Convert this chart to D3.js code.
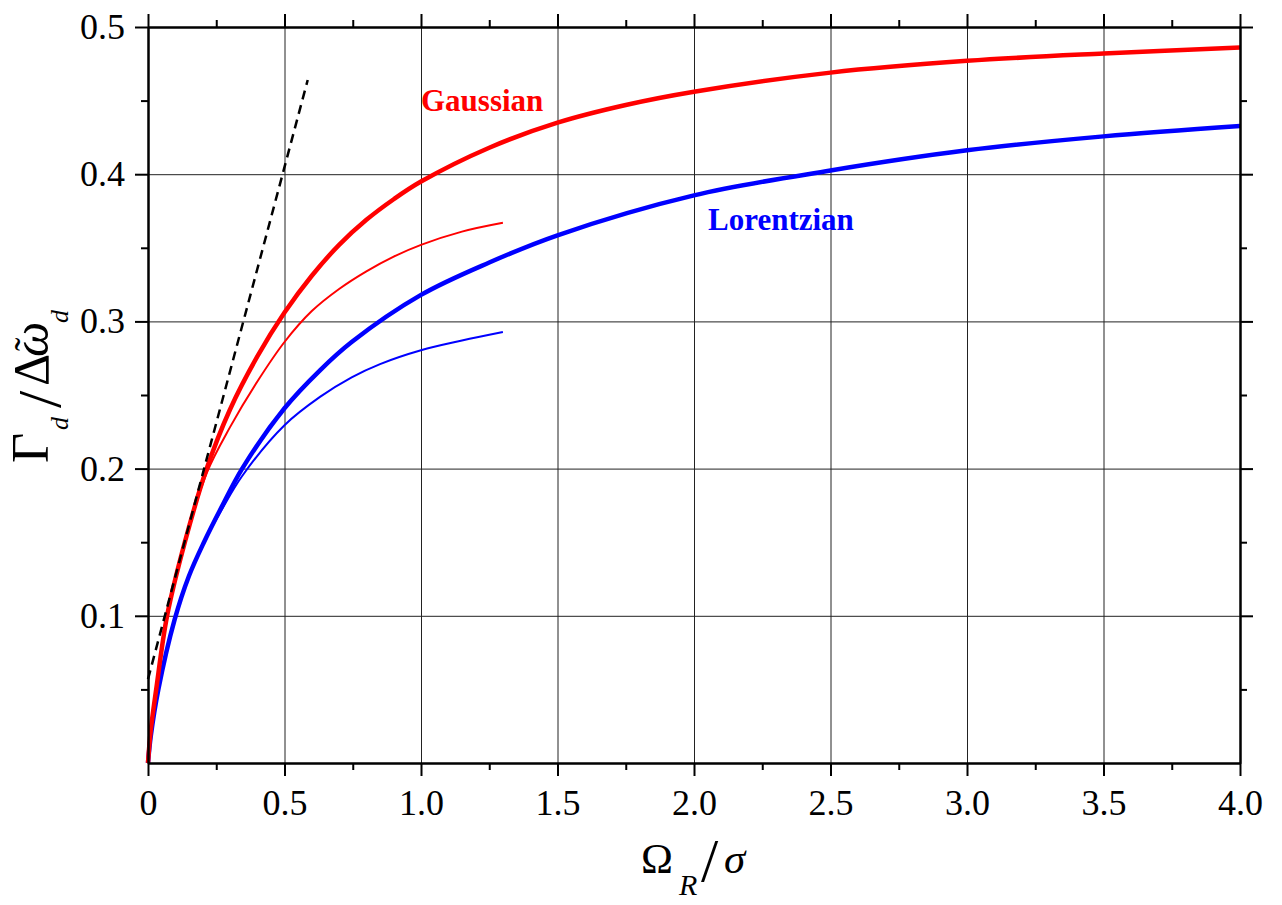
<!DOCTYPE html>
<html>
<head>
<meta charset="utf-8">
<script src="https://cdn.jsdelivr.net/npm/d3@7"></script>
<style>
  html, body { margin: 0; padding: 0; background: #fff; }
  svg { display: block; }
  text { font-family: "Liberation Serif", "Times New Roman", serif; }
</style>
</head>
<body>
<svg id="chart" width="1282" height="905"></svg>
<script>
// ---------------- DATA ----------------
const gaussThickX = [0, 0.01, 0.03, 0.07, 0.135, 0.215, 0.3, 0.4, 0.5, 0.6, 0.7, 0.8, 0.9, 1.0, 1.25, 1.5, 1.75, 2.0, 2.5, 3.0, 3.5, 4.0];
const gaussThickY = [0, 0.022, 0.05, 0.1, 0.15, 0.2, 0.24, 0.276, 0.306, 0.331, 0.352, 0.369, 0.383, 0.395, 0.418, 0.435, 0.447, 0.456, 0.469, 0.477, 0.482, 0.486];

const gaussThinX = [0, 0.01, 0.03, 0.07, 0.135, 0.215, 0.3, 0.4, 0.5, 0.6, 0.7, 0.8, 0.9, 1.0, 1.15, 1.3];
const gaussThinY = [0, 0.022, 0.05, 0.1, 0.15, 0.197, 0.228, 0.259, 0.286, 0.307, 0.322, 0.334, 0.344, 0.352, 0.361, 0.367];

const lorThickX = [0, 0.01, 0.038, 0.097, 0.15, 0.205, 0.27, 0.345, 0.5, 0.63, 0.746, 1.0, 1.25, 1.5, 2.0, 2.5, 3.0, 3.5, 4.0];
const lorThickY = [0, 0.018, 0.05, 0.097, 0.127, 0.15, 0.174, 0.2, 0.241, 0.2668, 0.286, 0.318, 0.34, 0.3585, 0.3856, 0.4025, 0.4162, 0.4257, 0.4327];

const lorThinX = [0, 0.01, 0.038, 0.097, 0.15, 0.205, 0.27, 0.345, 0.5, 0.63, 0.746, 0.85, 1.0, 1.15, 1.3];
const lorThinY = [0, 0.018, 0.05, 0.097, 0.127, 0.15, 0.172, 0.195, 0.2295, 0.2487, 0.262, 0.271, 0.2804, 0.287, 0.2928];

const dashX = [0, 0.585];
const dashY = [0.057, 0.464];

const xTicks = [0, 0.5, 1.0, 1.5, 2.0, 2.5, 3.0, 3.5, 4.0];
const xTickLabels = ["0", "0.5", "1.0", "1.5", "2.0", "2.5", "3.0", "3.5", "4.0"];
const xMinorTicks = [0.25, 0.75, 1.25, 1.75, 2.25, 2.75, 3.25, 3.75];
const yTicks = [0.1, 0.2, 0.3, 0.4, 0.5];
const yTickLabels = ["0.1", "0.2", "0.3", "0.4", "0.5"];
const yMinorTicks = [0.05, 0.15, 0.25, 0.35, 0.45];

// ---------------- LAYOUT ----------------
const L = 148, R = 1240, T = 27, B = 763;
const W = R - L, H = B - T;

const svg = d3.select("#chart");
const g = svg.append("g").attr("transform", `translate(${L},${T})`);

const x = d3.scaleLinear().domain([0, 4]).range([0, W]);
const y = d3.scaleLinear().domain([0, 0.5]).range([H, 0]);

// grid
g.append("g").attr("class", "grid")
  .attr("transform", `translate(0,${H})`)
  .call(d3.axisBottom(x).tickValues(xTicks).tickSize(-H).tickFormat(""))
  .call(s => s.select(".domain").remove())
  .call(s => s.selectAll("line").attr("stroke", "#222").attr("stroke-width", 1));
g.append("g").attr("class", "grid")
  .call(d3.axisLeft(y).tickValues(yTicks).tickSize(-W).tickFormat(""))
  .call(s => s.select(".domain").remove())
  .call(s => s.selectAll("line").attr("stroke", "#222").attr("stroke-width", 1));

// curves
const line = d3.line().x(d => x(d[0])).y(d => y(d[1])).curve(d3.curveCatmullRom.alpha(0.5));
function pts(xs, ys) { return xs.map((v, i) => [v, ys[i]]); }

g.append("path").datum(pts(lorThinX, lorThinY)).attr("d", line)
  .attr("fill", "none").attr("stroke", "#0000ff").attr("stroke-width", 2);
g.append("path").datum(pts(lorThickX, lorThickY)).attr("d", line)
  .attr("fill", "none").attr("stroke", "#0000ff").attr("stroke-width", 4.5);
g.append("path").datum(pts(gaussThinX, gaussThinY)).attr("d", line)
  .attr("fill", "none").attr("stroke", "#ff0000").attr("stroke-width", 2);
g.append("path").datum(pts(gaussThickX, gaussThickY)).attr("d", line)
  .attr("fill", "none").attr("stroke", "#ff0000").attr("stroke-width", 4.5);
g.append("path").datum(pts(dashX, dashY)).attr("d", d3.line().x(d => x(d[0])).y(d => y(d[1])))
  .attr("fill", "none").attr("stroke", "#000").attr("stroke-width", 2.5)
  .attr("stroke-dasharray", "9,6");

// axes
function styleAxis(s) {
  s.select(".domain").attr("stroke", "#000").attr("stroke-width", 2);
  s.selectAll(".tick line").attr("stroke", "#000").attr("stroke-width", 2);
  s.selectAll("text").attr("fill", "#000").style("font-size", "36px")
    .style("font-family", '"Liberation Serif", "Times New Roman", serif');
}
// bottom
g.append("g").attr("transform", `translate(0,${H})`)
  .call(d3.axisBottom(x).tickValues(xTicks).tickSize(13).tickPadding(13.4)
    .tickFormat((d, i) => xTickLabels[i]).tickSizeOuter(0))
  .call(styleAxis);
g.append("g").attr("transform", `translate(0,${H})`)
  .call(d3.axisBottom(x).tickValues(xMinorTicks).tickSize(7).tickFormat("").tickSizeOuter(0))
  .call(styleAxis);
// top
g.append("g")
  .call(d3.axisTop(x).tickValues(xTicks).tickSize(13).tickFormat("").tickSizeOuter(0))
  .call(styleAxis);
g.append("g")
  .call(d3.axisTop(x).tickValues(xMinorTicks).tickSize(7).tickFormat("").tickSizeOuter(0))
  .call(styleAxis);
// left
g.append("g")
  .call(d3.axisLeft(y).tickValues(yTicks).tickSize(13).tickPadding(10)
    .tickFormat((d, i) => yTickLabels[i]).tickSizeOuter(0))
  .call(styleAxis);
g.append("g")
  .call(d3.axisLeft(y).tickValues(yMinorTicks).tickSize(7).tickFormat("").tickSizeOuter(0))
  .call(styleAxis);
// right
g.append("g").attr("transform", `translate(${W},0)`)
  .call(d3.axisRight(y).tickValues(yTicks).tickSize(13).tickFormat("").tickSizeOuter(0))
  .call(styleAxis);
g.append("g").attr("transform", `translate(${W},0)`)
  .call(d3.axisRight(y).tickValues(yMinorTicks).tickSize(7).tickFormat("").tickSizeOuter(0))
  .call(styleAxis);

// series labels
svg.append("text").attr("x", 421).attr("y", 111).attr("fill", "#ff0000")
  .attr("font-weight", "bold").style("font-size", "31px").text("Gaussian");
svg.append("text").attr("x", 708).attr("y", 230).attr("fill", "#0000ff")
  .attr("font-weight", "bold").style("font-size", "31px").text("Lorentzian");

// x axis title
const xt = svg.append("text").attr("fill", "#000");
xt.append("tspan").attr("x", 641).attr("y", 873).style("font-size", "43px").text("Ω");
xt.append("tspan").attr("x", 679).attr("y", 895).style("font-size", "30px").style("font-style", "italic").text("R");
xt.append("tspan").attr("x", 701).attr("y", 881).style("font-size", "62px").text("/");
xt.append("tspan").attr("x", 724).attr("y", 873).style("font-size", "43px").style("font-style", "italic").text("σ");

// y axis title (rotated)
const yt = svg.append("text").attr("fill", "#000")
  .attr("transform", "translate(48,463) rotate(-90)");
yt.append("tspan").attr("x", 0).attr("y", 0).style("font-size", "52px").text("Γ");
yt.append("tspan").attr("x", 33).attr("y", 20).style("font-size", "26px").style("font-style", "italic").text("d");
yt.append("tspan").attr("x", 55).attr("y", 12).style("font-size", "62px").text("/");
yt.append("tspan").attr("x", 77).attr("y", 0).style("font-size", "50px").text("Δ");
yt.append("tspan").attr("x", 106).attr("y", 0).style("font-size", "50px").style("font-style", "italic").text("ω");
yt.append("tspan").attr("x", 112).attr("y", -6).style("font-size", "40px").text("\u02DC");
yt.append("tspan").attr("x", 140).attr("y", 20).style("font-size", "26px").style("font-style", "italic").text("d");
</script>
</body>
</html>
